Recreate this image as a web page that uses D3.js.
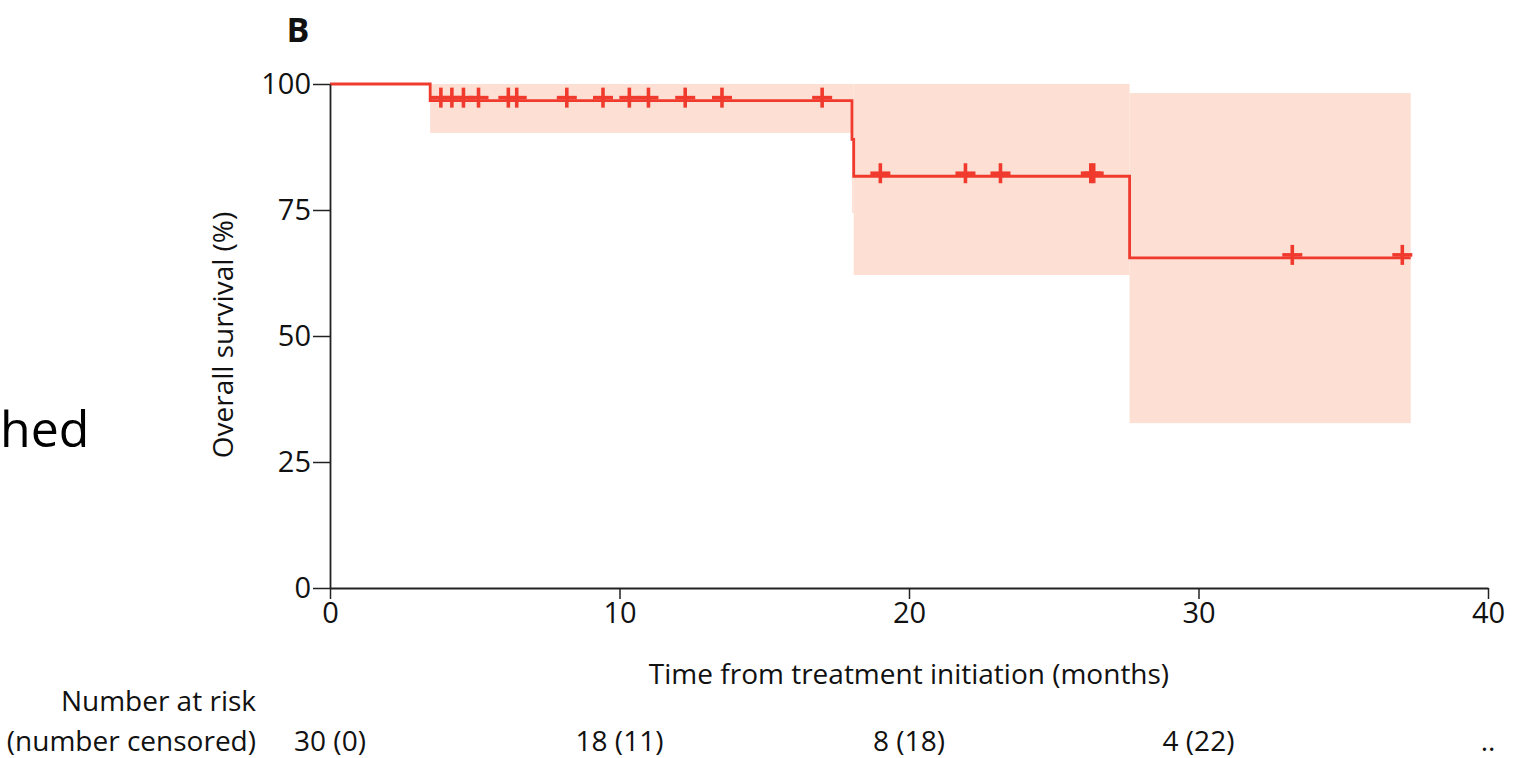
<!DOCTYPE html>
<html>
<head>
<meta charset="utf-8">
<script src="https://cdn.jsdelivr.net/npm/d3@7"></script>
<style>
  html, body { margin: 0; padding: 0; background: #fff; }
  svg { display: block; }
  .lbl { font-family: "Liberation Sans Narrow", "Arial Narrow", "Open Sans", sans-serif; fill: #111; }
</style>
</head>
<body>
<svg id="chart" width="1514" height="758"></svg>
<script>
// Kaplan-Meier overall survival, one arm
const timeTicks = [0, 10, 20, 30, 40];
const survTicks = [0, 25, 50, 75, 100];

// step function: survival (%) from each time onward
const stepTimes = [0, 3.46, 18.03, 18.09, 27.62];
const stepSurv  = [100, 96.7, 89.0, 81.7, 65.5];
const lastFollowUp = 37.33;

// 95% CI band, piecewise constant
const ciStart = [3.46, 18.03, 18.09, 27.62];
const ciEnd   = [18.03, 18.09, 27.62, 37.33];
const ciUpper = [100, 100, 100, 98.2];
const ciLower = [90.3, 74.4, 62.1, 32.7];

// censored observations (months)
const censorTimes = [3.83, 4.21, 4.61, 5.13, 6.16, 6.45, 8.18, 9.43, 10.34, 11.0, 12.27, 13.54, 17.0,
                     19.01, 21.95, 23.16, 26.28, 26.38, 33.24, 37.04];

// number at risk (number censored)
const riskTimes  = [0, 10, 20, 30, 40];
const riskLabels = ["30 (0)", "18 (11)", "8 (18)", "4 (22)", ".."];

const svg = d3.select("#chart");
const x = d3.scaleLinear().domain([0, 40]).range([330, 1488]);
const y = d3.scaleLinear().domain([0, 100]).range([588, 84]);

const red = "#f03a2e";
const band = "#fddfd3";

function survAt(t) {
  let s = stepSurv[0];
  stepTimes.forEach((st, i) => { if (t >= st) s = stepSurv[i]; });
  return s;
}

// confidence band
svg.append("g").selectAll("rect")
  .data(ciStart.map((s, i) => ({ s, e: ciEnd[i], u: ciUpper[i], l: ciLower[i] })))
  .join("rect")
  .attr("x", d => x(d.s))
  .attr("width", d => x(d.e) - x(d.s))
  .attr("y", d => y(d.u))
  .attr("height", d => y(d.l) - y(d.u))
  .attr("fill", band);

// survival curve
const pts = stepTimes.map((t, i) => [t, stepSurv[i]]).concat([[lastFollowUp, stepSurv[stepSurv.length - 1]]]);
svg.append("path")
  .attr("d", d3.line().x(d => x(d[0])).y(d => y(d[1])).curve(d3.curveStepAfter)(pts))
  .attr("fill", "none")
  .attr("stroke", red)
  .attr("stroke-width", 2.8);

// censor marks
const cg = svg.append("g").attr("stroke", red).attr("stroke-width", 3.6);
censorTimes.forEach(t => {
  const cx = x(t), cy = y(survAt(t)) - 3;
  cg.append("line").attr("x1", cx - 10).attr("x2", cx + 10).attr("y1", cy).attr("y2", cy);
  cg.append("line").attr("x1", cx).attr("x2", cx).attr("y1", cy - 10).attr("y2", cy + 10);
});

// axes
const xAxis = svg.append("g").attr("transform", "translate(0,588)")
  .call(d3.axisBottom(x).tickValues(timeTicks).tickSize(11).tickPadding(3).tickSizeOuter(0));
xAxis.select(".domain").attr("stroke", "#222").attr("stroke-width", 2);
xAxis.selectAll(".tick line").attr("stroke", "#222").attr("stroke-width", 1.5);
xAxis.selectAll("text").attr("class", "lbl").attr("font-size", 29).attr("fill", "#111");

const yAxis = svg.append("g").attr("transform", "translate(330,0)")
  .call(d3.axisLeft(y).tickValues(survTicks).tickSize(17).tickPadding(2).tickSizeOuter(0));
yAxis.select(".domain").attr("stroke", "#222").attr("stroke-width", 1.8);
yAxis.selectAll(".tick line").attr("stroke", "#222").attr("stroke-width", 1.5);
yAxis.selectAll("text").attr("class", "lbl").attr("font-size", 29).attr("fill", "#111");

// axis titles
svg.append("text").attr("class", "lbl")
  .attr("x", 909).attr("y", 684).attr("text-anchor", "middle").attr("font-size", 28)
  .text("Time from treatment initiation (months)");
svg.append("text").attr("class", "lbl")
  .attr("transform", "translate(233,335) rotate(-90)").attr("text-anchor", "middle").attr("font-size", 28)
  .text("Overall survival (%)");

// panel letter
svg.append("text").attr("x", 298).attr("y", 42).attr("text-anchor", "middle")
  .attr("font-family", "'Open Sans', sans-serif").attr("font-weight", 700).attr("font-size", 34)
  .attr("fill", "#111").text("B");

// trailing word from the surrounding slide text
svg.append("text").attr("x", 0).attr("y", 447)
  .attr("font-family", "'Open Sans', sans-serif").attr("font-size", 50).attr("fill", "#000").text("hed");

// risk table
svg.append("text").attr("class", "lbl").attr("x", 256).attr("y", 711).attr("text-anchor", "end")
  .attr("font-size", 28).text("Number at risk");
svg.append("text").attr("class", "lbl").attr("x", 256).attr("y", 751).attr("text-anchor", "end")
  .attr("font-size", 28).text("(number censored)");
svg.append("g").selectAll("text")
  .data(riskTimes.map((t, i) => ({ t, s: riskLabels[i] })))
  .join("text").attr("class", "lbl")
  .attr("x", d => x(d.t)).attr("y", 751).attr("text-anchor", "middle").attr("font-size", 28)
  .text(d => d.s);
</script>
</body>
</html>
